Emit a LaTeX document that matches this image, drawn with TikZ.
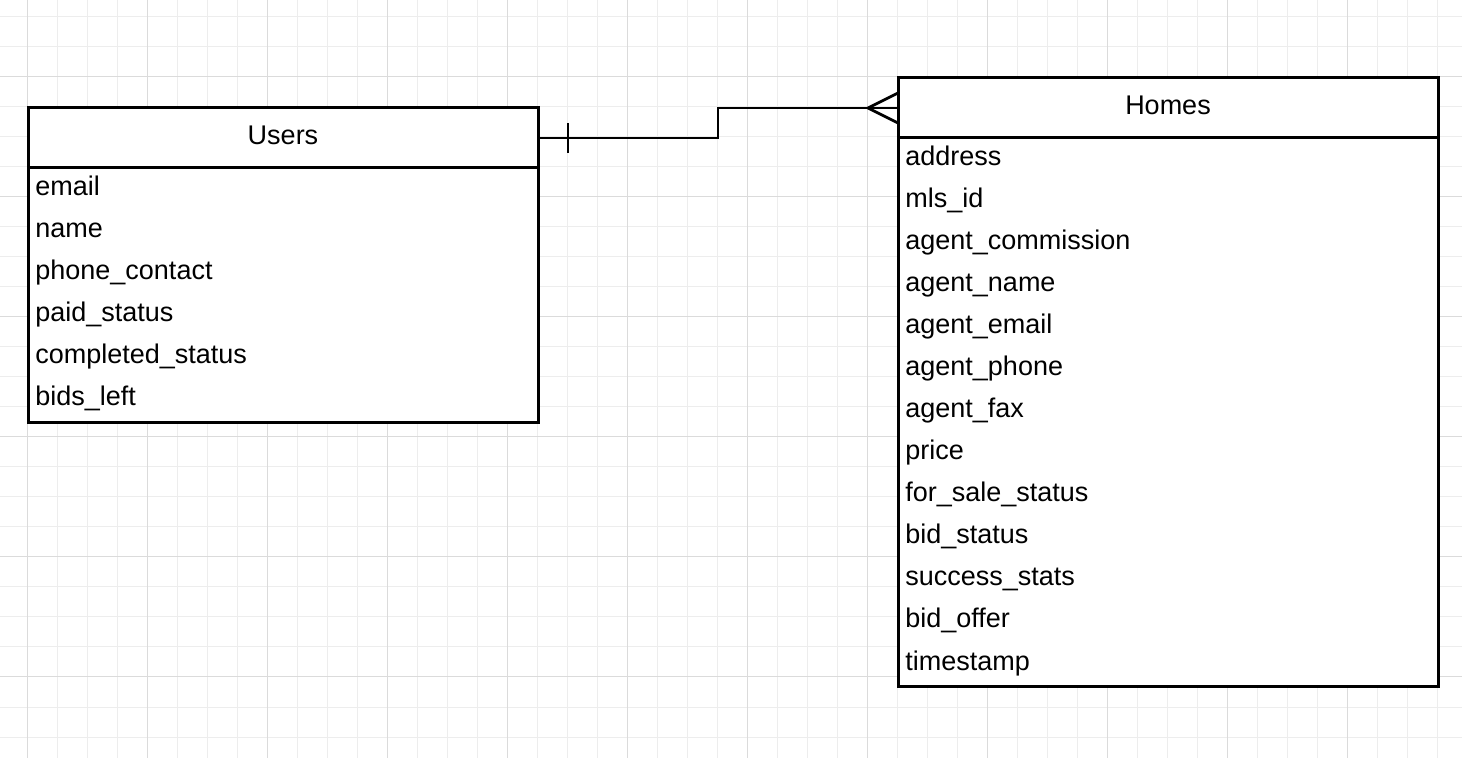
\documentclass[tikz,border=0pt]{standalone}
\usepackage{fontspec}
\setmainfont{Liberation Sans}
\usetikzlibrary{calc}
\colorlet{gridminor}{black!7}
\colorlet{gridmajor}{black!14}
\begin{document}
\begin{tikzpicture}[x=0.5pt,y=-0.5pt]
  \tikzset{
    tablehead/.style={
      rectangle,
      draw=black,
      fill=white,
      line width=1.5pt,
      anchor=north west,
      minimum height=30pt,
      inner sep=0pt,
      outer sep=0pt,
      font=\fontsize{13.5}{16}\selectfont,
      text height=9.6pt,
      text depth=2.6pt
    },
    tablebody/.style={
      rectangle,
      draw=black,
      fill=white,
      line width=1.5pt,
      anchor=north west,
      inner sep=0pt,
      outer sep=0pt
    },
    field/.style={
      anchor=base west,
      inner sep=0pt,
      font=\fontsize{13.5}{16}\selectfont
    },
    link/.style={
      draw=black,
      line width=1.4pt
    }
  }

  \useasboundingbox (0,0) rectangle (1462,758);
  \fill[white] (0,0) rectangle (1462,758);
  \foreach \x in {27,57,...,1437}
    \draw[line width=0.5pt, gridminor] (\x,0) -- (\x,758);
  \foreach \y in {17,47,...,737}
    \draw[line width=0.5pt, gridminor] (0,\y) -- (1462,\y);
  \foreach \x in {27,147,...,1347}
    \draw[line width=0.5pt, gridmajor] (\x,0) -- (\x,758);
  \foreach \y in {77,197,...,677}
    \draw[line width=0.5pt, gridmajor] (0,\y) -- (1462,\y);

  \node[tablebody, minimum width=255pt, minimum height=127.5pt] (usersbody) at (28,168) {};
  \node[tablehead, minimum width=255pt] (users) at (28,108) {Users};
  \foreach \f [count=\i] in {email,name,phone\_contact,paid\_status,completed\_status,bids\_left}
    \node[field] (users-\i) at (35,{196+42*(\i-1)}) {\f};

  \node[tablebody, minimum width=270pt, minimum height=274.5pt] (homesbody) at (898,138) {};
  \node[tablehead, minimum width=270pt] (homes) at (898,78) {Homes};
  \foreach \f [count=\i] in {address,mls\_id,agent\_commission,agent\_name,agent\_email,agent\_phone,agent\_fax,price,for\_sale\_status,bid\_status,success\_stats,bid\_offer,timestamp}
    \node[field] (homes-\i) at (905,{166+42*(\i-1)}) {\f};

  \draw[link] (users.east) -| ($(users.east)!0.5!(homes.west)$) |- (homes.west);
  \draw[link] ($(users.east)+(30,-15)$) -- ($(users.east)+(30,15)$);
  \draw[link] ($(homes.west)+(0,-15)$) -- ($(homes.west)+(-30,0)$) -- ($(homes.west)+(0,15)$);
\end{tikzpicture}
\end{document}
